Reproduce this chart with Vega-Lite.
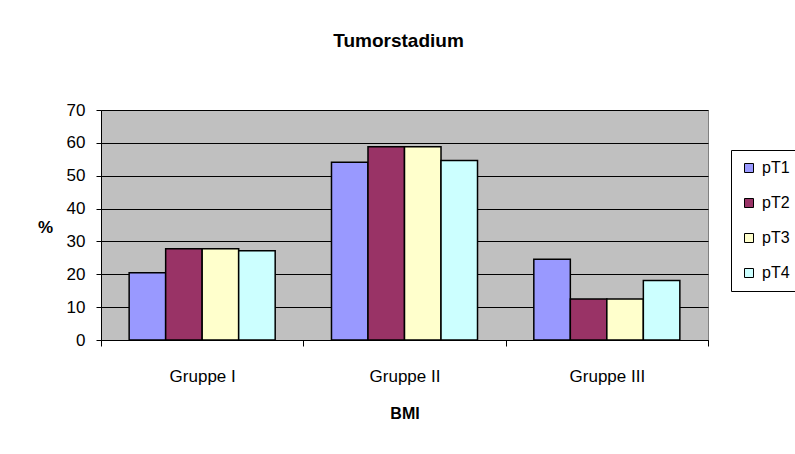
{
  "$schema": "https://vega.github.io/schema/vega-lite/v6.json",
  "autosize": {"type": "none"},
  "width": 607,
  "height": 230,
  "padding": {"left": 101, "top": 110, "right": 87, "bottom": 114},
  "background": "white",
  "title": {
    "text": "Tumorstadium",
    "font": "Liberation Sans",
    "fontSize": 19,
    "fontWeight": "bold",
    "color": "black",
    "anchor": "middle",
    "dx": -6,
    "offset": 50
  },
  "data": {
    "values": [
      {"gruppe": "Gruppe I", "stadium": "pT1", "prozent": 20.5},
      {"gruppe": "Gruppe I", "stadium": "pT2", "prozent": 27.8},
      {"gruppe": "Gruppe I", "stadium": "pT3", "prozent": 27.8},
      {"gruppe": "Gruppe I", "stadium": "pT4", "prozent": 27.2},
      {"gruppe": "Gruppe II", "stadium": "pT1", "prozent": 54.1},
      {"gruppe": "Gruppe II", "stadium": "pT2", "prozent": 58.8},
      {"gruppe": "Gruppe II", "stadium": "pT3", "prozent": 58.8},
      {"gruppe": "Gruppe II", "stadium": "pT4", "prozent": 54.6},
      {"gruppe": "Gruppe III", "stadium": "pT1", "prozent": 24.6},
      {"gruppe": "Gruppe III", "stadium": "pT2", "prozent": 12.5},
      {"gruppe": "Gruppe III", "stadium": "pT3", "prozent": 12.5},
      {"gruppe": "Gruppe III", "stadium": "pT4", "prozent": 18.1}
    ]
  },
  "mark": {"type": "bar", "stroke": "black", "strokeWidth": 1.5},
  "encoding": {
    "x": {
      "field": "gruppe",
      "type": "nominal",
      "sort": ["Gruppe I", "Gruppe II", "Gruppe III"],
      "scale": {"paddingInner": 0, "paddingOuter": 0},
      "axis": {
        "title": "BMI",
        "titleFont": "Liberation Sans",
        "titleFontSize": 16,
        "titleFontWeight": "bold",
        "titleColor": "black",
        "titlePadding": 21,
        "labelAngle": 0,
        "labelFont": "Liberation Sans",
        "labelFontSize": 17,
        "labelColor": "black",
        "labelPadding": 22,
        "domainColor": "black",
        "domainWidth": 1,
        "tickColor": "black",
        "tickSize": 6,
        "tickBand": "extent",
        "grid": false
      }
    },
    "xOffset": {
      "field": "stadium",
      "type": "nominal",
      "scale": {"paddingInner": 0, "paddingOuter": 0.771}
    },
    "y": {
      "field": "prozent",
      "type": "quantitative",
      "scale": {"domain": [0, 70], "nice": false},
      "axis": {
        "values": [0, 10, 20, 30, 40, 50, 60, 70],
        "title": "%",
        "titleAngle": 0,
        "titleFont": "Liberation Sans",
        "titleFontSize": 17,
        "titleFontWeight": "bold",
        "titleColor": "black",
        "titleX": -56,
        "titleY": 117,
        "titleAlign": "center",
        "titleBaseline": "middle",
        "labelFont": "Liberation Sans",
        "labelFontSize": 17,
        "labelColor": "black",
        "labelPadding": 11,
        "domainColor": "black",
        "tickColor": "black",
        "tickSize": 5,
        "grid": true,
        "gridColor": "black",
        "gridWidth": 1
      }
    },
    "color": {
      "field": "stadium",
      "type": "nominal",
      "scale": {
        "domain": ["pT1", "pT2", "pT3", "pT4"],
        "range": ["#9999FF", "#993366", "#FFFFCC", "#CCFFFF"]
      },
      "legend": {
        "title": null,
        "orient": "none",
        "legendX": 630,
        "legendY": 40,
        "strokeColor": "black",
        "fillColor": "white",
        "padding": 10,
        "symbolType": "square",
        "symbolSize": 81,
        "symbolStrokeColor": "black",
        "symbolStrokeWidth": 1,
        "labelFont": "Liberation Sans",
        "labelFontSize": 16,
        "labelColor": "black",
        "rowPadding": 19,
        "labelOffset": 5
      }
    }
  },
  "config": {
    "view": {"fill": "#C0C0C0", "stroke": "#808080", "strokeWidth": 1}
  }
}
